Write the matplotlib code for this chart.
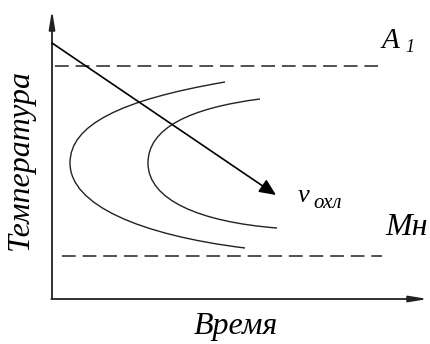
import matplotlib.pyplot as plt
from matplotlib.path import Path
from matplotlib.patches import PathPatch

# schematic TTT diagram, coordinates in an arbitrary time / temperature scale
# (time grows right, temperature grows up)
axis_time_end = 428
axis_temp_end = 334

a1_temp = 278
mn_temp = 88
a1_span = [55, 378]
mn_span = [62, 382]

# outer C-curve: top end, control points, nose, control points, bottom end
curve1_time = [225, 120, 70, 70, 70, 140, 245]
curve1_temp = [262, 244, 219, 181, 139, 109, 96]

# inner C-curve
curve2_time = [260, 190, 148, 148, 148, 200, 277]
curve2_temp = [245, 236, 216, 181, 144, 122, 116]

# cooling path
cool_start = (52, 301)
cool_end = (276, 149)

fig = plt.figure(figsize=(4.3, 3.44), dpi=100)
ax = fig.add_axes([0, 0, 1, 1])
ax.set_xlim(0, 430)
ax.set_ylim(0, 344)
ax.axis("off")

ink = "#222222"
font = dict(family="Liberation Serif", style="italic", color="black")

# axes with arrows
ax.annotate("", xy=(52, axis_temp_end), xytext=(52, 45),
            arrowprops=dict(arrowstyle="-|>,head_length=1.1,head_width=0.18",
                            color=ink, lw=1.3, shrinkA=0, shrinkB=0))
ax.annotate("", xy=(axis_time_end, 45), xytext=(51.4, 45),
            arrowprops=dict(arrowstyle="-|>,head_length=1.1,head_width=0.18",
                            color=ink, lw=1.3, shrinkA=0, shrinkB=0))

# A1 and Mn lines
ax.plot(a1_span, [a1_temp, a1_temp], color=ink, lw=1.1, dashes=(9, 4.5))
ax.plot(mn_span, [mn_temp, mn_temp], color=ink, lw=1.1, dashes=(9, 4.5))

# C-curves as two cubic Bezier segments each
codes = [Path.MOVETO] + [Path.CURVE4] * 6
for t, T in [(curve1_time, curve1_temp), (curve2_time, curve2_temp)]:
    path = Path(list(zip(t, T)), codes)
    ax.add_patch(PathPatch(path, facecolor="none", edgecolor=ink, lw=1.0))

# cooling arrow
ax.annotate("", xy=cool_end, xytext=cool_start,
            arrowprops=dict(arrowstyle="-|>,head_length=1.0,head_width=0.45",
                            color="black", lw=1.2, shrinkA=0, shrinkB=0))

# labels
ax.text(382, 296, "A", fontsize=21, ha="left", va="baseline", **font)
ax.text(405, 292, "1", fontsize=13, ha="left", va="baseline", **font)
ax.text(298, 142, "v", fontsize=19, ha="left", va="baseline", **font)
ax.text(313, 136, "охл", fontsize=15, ha="left", va="baseline", **font)
ax.text(385, 109, "Мн", fontsize=23, ha="left", va="baseline", **font)
ax.text(20, 185, "Температура", fontsize=23, rotation=90, ha="center",
        va="center", **font)
ax.text(236, 10, "Время", fontsize=23, ha="center", va="baseline", **font)

fig.savefig("out.png", dpi=100)
